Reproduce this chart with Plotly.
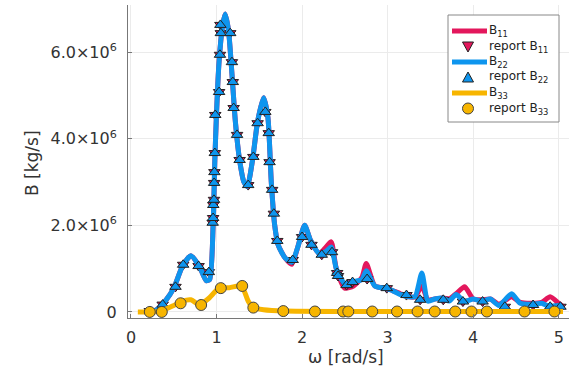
import plotly.graph_objects as go

# ---------------- data (B in units of 1e6 kg/s) ----------------
# continuous curves
w_line = [0.20, 0.30, 0.40, 0.50, 0.60, 0.70, 0.80, 0.88, 0.92, 0.96, 0.98, 1.00, 1.03, 1.07,
          1.10, 1.14, 1.18, 1.22, 1.27, 1.32, 1.36, 1.42, 1.48, 1.55, 1.60, 1.64, 1.68, 1.72,
          1.80, 1.88, 1.95, 2.03, 2.10, 2.20, 2.28, 2.34, 2.40, 2.50, 2.60, 2.70, 2.75, 2.85,
          2.95, 3.05, 3.15, 3.25, 3.32, 3.40, 3.47, 3.55, 3.65, 3.72, 3.80, 3.90, 4.00, 4.10,
          4.20, 4.30, 4.45, 4.55, 4.70, 4.80, 4.90, 5.00, 5.05]
B22_line = [0.00, 0.05, 0.25, 0.55, 1.05, 1.30, 1.05, 0.72, 0.75, 2.00, 3.50, 4.60, 5.80, 6.60,
            6.88, 6.50, 5.50, 4.40, 3.50, 3.00, 2.90, 3.50, 4.40, 4.95, 4.50, 3.00, 2.00, 1.55,
            1.25, 1.15, 1.50, 2.00, 1.65, 1.35, 1.40, 1.50, 1.00, 0.65, 0.70, 0.75, 0.95, 0.60,
            0.55, 0.50, 0.40, 0.35, 0.35, 0.90, 0.25, 0.30, 0.32, 0.25, 0.40, 0.24, 0.30, 0.25,
            0.30, 0.15, 0.42, 0.20, 0.18, 0.20, 0.12, 0.15, 0.10]
B11_line = [0.00, 0.05, 0.25, 0.55, 1.05, 1.30, 1.05, 0.72, 0.75, 2.00, 3.50, 4.60, 5.80, 6.60,
            6.88, 6.50, 5.50, 4.40, 3.50, 3.00, 2.90, 3.50, 4.40, 4.95, 4.50, 3.00, 2.00, 1.55,
            1.25, 1.10, 1.50, 2.00, 1.65, 1.35, 1.50, 1.62, 1.00, 0.55, 0.60, 0.80, 1.12, 0.60,
            0.55, 0.50, 0.42, 0.35, 0.35, 0.60, 0.28, 0.30, 0.32, 0.30, 0.42, 0.58, 0.30, 0.28,
            0.30, 0.18, 0.35, 0.22, 0.20, 0.22, 0.35, 0.20, 0.12]
w33_line = [0.08, 0.20, 0.35, 0.50, 0.60, 0.70, 0.80, 0.90, 1.00, 1.05, 1.15, 1.25, 1.30, 1.37,
            1.43, 1.55, 1.80, 2.50, 5.05]
B33_line = [0.00, 0.00, 0.02, 0.15, 0.25, 0.28, 0.17, 0.30, 0.50, 0.56, 0.56, 0.60, 0.58, 0.25,
            0.10, 0.05, 0.02, 0.01, 0.01]

# reported values (markers)
w_rep = [0.22, 0.37, 0.52, 0.61, 0.79, 0.91, 0.955, 0.96, 0.962, 0.97, 0.972, 0.975, 0.98,
         0.985, 1.03, 1.04, 1.05, 1.045, 1.16, 1.18, 1.19, 1.20, 1.24, 1.27, 1.37, 1.43, 1.48,
         1.57, 1.61, 1.62, 1.65, 1.67, 1.71, 1.89, 2.00, 2.11, 2.23, 2.35, 2.41, 2.42, 2.52,
         2.59, 2.76, 2.99, 3.22, 3.38, 3.65, 3.88, 4.11, 4.37, 4.70, 4.90, 5.02]
B11_rep = [0.02, 0.17, 0.58, 1.09, 1.06, 0.92, 2.06, 2.17, 2.47, 2.59, 2.98, 3.23, 3.67,
           4.55, 5.08, 5.94, 6.44, 6.63, 6.44, 5.77, 5.31, 4.71, 4.09, 3.51, 2.93, 3.58, 4.36,
           4.62, 4.13, 3.46, 2.82, 2.27, 1.64, 1.20, 1.73, 1.55, 1.32, 1.38, 0.90, 0.83, 0.62,
           0.69, 0.76, 0.55, 0.39, 0.28, 0.28, 0.24, 0.24, 0.12, 0.16, 0.12, 0.12]
B22_rep = list(B11_rep)
w33_rep = [0.22, 0.36, 0.58, 0.82, 1.05, 1.30, 1.43, 1.78, 2.15, 2.48, 2.54, 2.82, 3.11,
           3.35, 3.55, 3.79, 3.98, 4.16, 4.60, 4.95]
B33_rep = [0.00, 0.00, 0.20, 0.16, 0.55, 0.60, 0.10, 0.02, 0.01, 0.01, 0.01, 0.01, 0.01,
           0.01, 0.01, 0.01, 0.01, 0.01, 0.01, 0.01]

yticks = [0, 2e6, 4e6, 6e6]
yticktext = ["0", "2.0×10<sup>6</sup>", "4.0×10<sup>6</sup>", "6.0×10<sup>6</sup>"]
xticks = [0, 1, 2, 3, 4, 5]
legend_labels = ["B<sub>11</sub>", "report B<sub>11</sub>", "B<sub>22</sub>",
                 "report B<sub>22</sub>", "B<sub>33</sub>", "report B<sub>33</sub>"]

SCALE = 1e6
C11 = "#E3175C"
C22 = "#0E95EE"
C33 = "#F7B500"
FONT = "DejaVu Sans"

# plot-area geometry in pixels (for the hand-drawn legend)
W, H = 569, 372
ML, MR, MT, MB = 128, 0, 5, 54
PW, PH = W - ML - MR, H - MT - MB


def px(x):
    return (x - ML) / PW


def py(y):
    return (H - MB - y) / PH


def sc(v):
    return [x * SCALE for x in v]


fig = go.Figure()
fig.add_trace(go.Scatter(x=w_line, y=sc(B11_line), mode="lines", name=legend_labels[0],
                         line=dict(color=C11, width=5, shape="spline", smoothing=0.6)))
fig.add_trace(go.Scatter(x=w_rep, y=sc(B11_rep), mode="markers", name=legend_labels[1],
                         marker=dict(symbol="triangle-down", size=10, color=C11,
                                     line=dict(color="#222", width=1))))
fig.add_trace(go.Scatter(x=w_line, y=sc(B22_line), mode="lines", name=legend_labels[2],
                         line=dict(color=C22, width=5, shape="spline", smoothing=0.6)))
fig.add_trace(go.Scatter(x=w_rep, y=sc(B22_rep), mode="markers", name=legend_labels[3],
                         marker=dict(symbol="triangle-up", size=10, color=C22,
                                     line=dict(color="#222", width=1))))
fig.add_trace(go.Scatter(x=w33_line, y=sc(B33_line), mode="lines", name=legend_labels[4],
                         line=dict(color=C33, width=5, shape="spline", smoothing=0.6)))
fig.add_trace(go.Scatter(x=w33_rep, y=sc(B33_rep), mode="markers", name=legend_labels[5],
                         marker=dict(symbol="circle", size=11, color=C33,
                                     line=dict(color="#444", width=1))))

axis_common = dict(showline=True, linecolor="#777", linewidth=1, mirror=False,
                   showgrid=True, gridcolor="#EBEBEB", gridwidth=1, zeroline=False,
                   ticks="inside", ticklen=4, tickcolor="#777",
                   tickfont=dict(family=FONT, size=16, color="#333"))

# ---- compact legend drawn by hand (box, line samples, symbols, labels) ----
shapes = []
annotations = []
box_l, box_r, box_t, box_b = 448, 559, 15, 122
shapes.append(dict(type="rect", xref="paper", yref="paper", x0=px(box_l), x1=px(box_r),
                   y0=py(box_b), y1=py(box_t), line=dict(color="#888", width=1),
                   fillcolor="white", layer="above"))
rows_y = [31, 46.5, 62, 77.5, 93, 108.5]
colors = [C11, C11, C22, C22, C33, C33]
sym_x = 468
for i, (ry, col, lab) in enumerate(zip(rows_y, colors, legend_labels)):
    if i % 2 == 0:
        shapes.append(dict(type="line", xref="paper", yref="paper", x0=px(452), x1=px(487),
                           y0=py(ry), y1=py(ry), line=dict(color=col, width=5), layer="above"))
    elif i == 1:
        path = "M {},{} L {},{} L {},{} Z".format(px(sym_x - 5.5), py(ry - 4.5), px(sym_x + 5.5),
                                                  py(ry - 4.5), px(sym_x), py(ry + 5.5))
        shapes.append(dict(type="path", xref="paper", yref="paper", path=path, fillcolor=col,
                           line=dict(color="#222", width=1), layer="above"))
    elif i == 3:
        path = "M {},{} L {},{} L {},{} Z".format(px(sym_x - 5.5), py(ry + 4.5), px(sym_x + 5.5),
                                                  py(ry + 4.5), px(sym_x), py(ry - 5.5))
        shapes.append(dict(type="path", xref="paper", yref="paper", path=path, fillcolor=col,
                           line=dict(color="#222", width=1), layer="above"))
    else:
        shapes.append(dict(type="circle", xref="paper", yref="paper", x0=px(sym_x - 5.5),
                           x1=px(sym_x + 5.5), y0=py(ry + 5.5), y1=py(ry - 5.5), fillcolor=col,
                           line=dict(color="#444", width=1), layer="above"))
    annotations.append(dict(text=lab, xref="paper", yref="paper", x=px(487), y=py(ry),
                            xanchor="left", yanchor="middle", showarrow=False,
                            font=dict(family=FONT, size=12, color="#222")))

annotations.append(dict(text="ω [rad/s]", xref="paper", yref="paper", x=px(346), y=py(357),
                        xanchor="center", yanchor="middle", showarrow=False,
                        font=dict(family=FONT, size=17, color="#333")))
annotations.append(dict(text="B [kg/s]", xref="paper", yref="paper", x=px(32), y=py(163),
                        xanchor="center", yanchor="middle", showarrow=False, textangle=-90,
                        font=dict(family=FONT, size=17, color="#333")))

fig.update_layout(
    width=W, height=H,
    margin=dict(l=ML, r=MR, t=MT, b=MB),
    paper_bgcolor="white", plot_bgcolor="white",
    font=dict(family=FONT, color="#333"),
    showlegend=False,
    xaxis=dict(range=[-0.035, 5.12], tickvals=xticks, ticklabelstandoff=5, **axis_common),
    yaxis=dict(range=[-0.14e6, 7.09e6], tickvals=yticks, ticktext=yticktext,
               ticklabelstandoff=7, **axis_common),
    shapes=shapes,
    annotations=annotations,
)

fig.write_html("out.html")
